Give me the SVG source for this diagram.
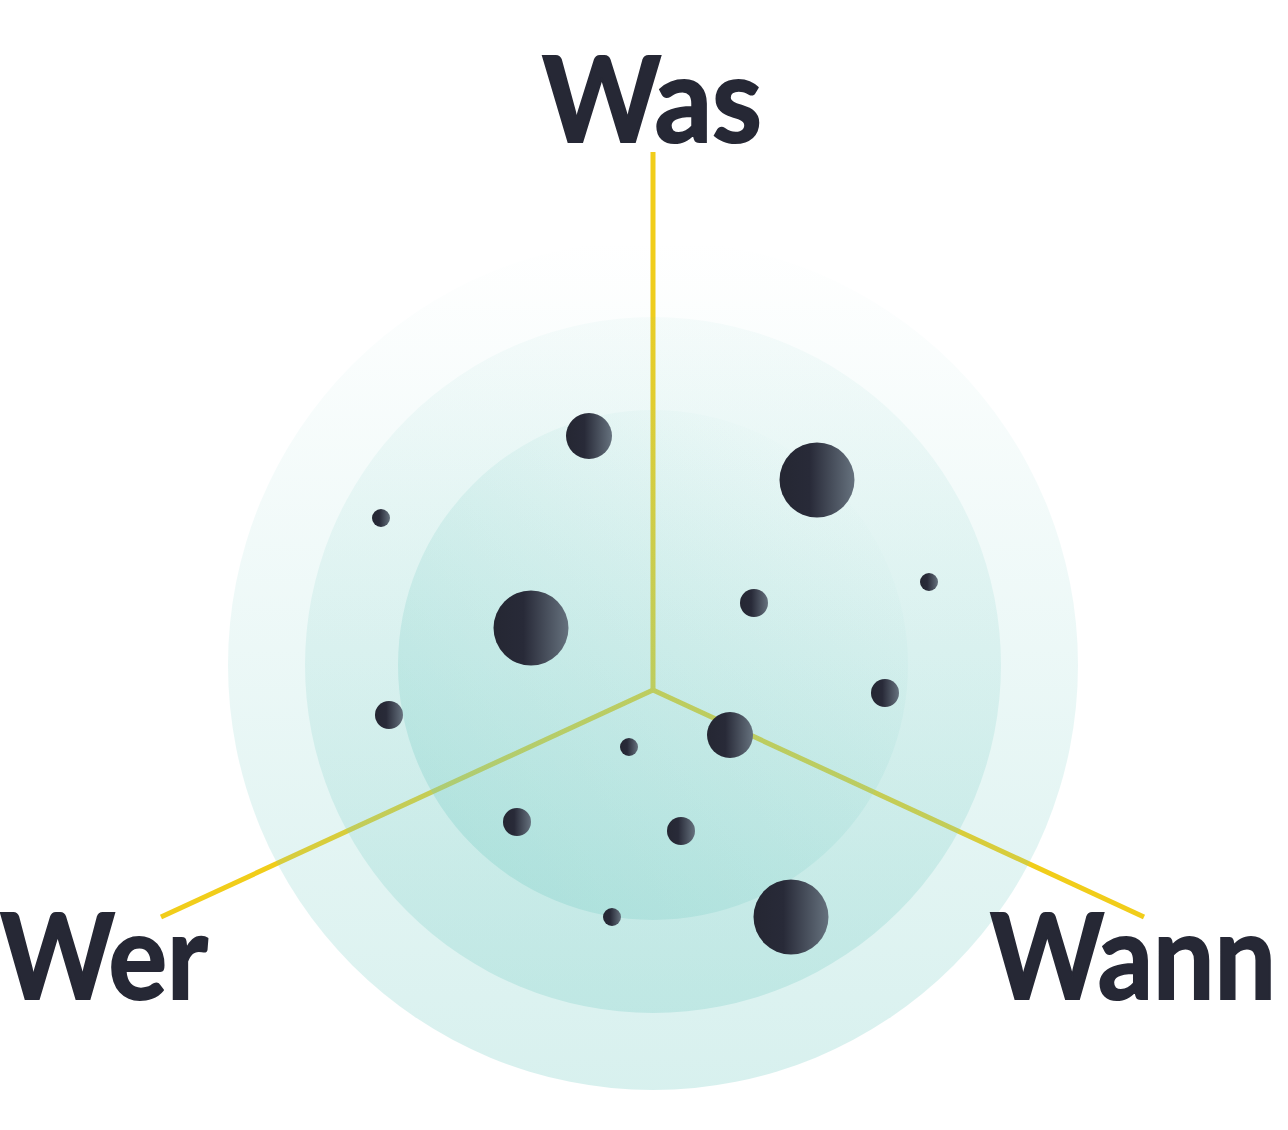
<svg xmlns="http://www.w3.org/2000/svg" width="1288" height="1130" viewBox="0 0 1288 1130">
  <defs>
    <linearGradient id="gOuter" x1="0" y1="0" x2="0" y2="1">
      <stop offset="0" stop-color="#72cbc3" stop-opacity="0"/>
      <stop offset="1" stop-color="#72cbc3" stop-opacity="0.28"/>
    </linearGradient>
    <linearGradient id="gMiddle" x1="0" y1="0" x2="0" y2="1">
      <stop offset="0" stop-color="#72cbc3" stop-opacity="0.05"/>
      <stop offset="1" stop-color="#72cbc3" stop-opacity="0.27"/>
    </linearGradient>
    <linearGradient id="gInner" x1="0.85" y1="0.1" x2="0.15" y2="0.9">
      <stop offset="0" stop-color="#72cbc3" stop-opacity="0.0"/>
      <stop offset="1" stop-color="#72cbc3" stop-opacity="0.3"/>
    </linearGradient>
    <linearGradient id="gDot" x1="0" y1="0" x2="1" y2="0">
      <stop offset="0" stop-color="#252733"/>
      <stop offset="0.4" stop-color="#282a38"/>
      <stop offset="1" stop-color="#66727e"/>
    </linearGradient>
  </defs>
  <style>
    .axis { stroke: #f1cd1a; stroke-width: 5; fill: none; }
    .dot { fill: url(#gDot); }
    .label { font-family: Lato, "Liberation Sans", sans-serif; font-weight: 700; font-size: 118px; fill: #262835; stroke: #262835; stroke-width: 2; }
  </style>
  <rect width="1288" height="1130" fill="#ffffff"/>
  <g id="connectors">
    <line class="axis" x1="653" y1="152" x2="653" y2="690"/>
    <line class="axis" x1="653" y1="690" x2="161" y2="917"/>
    <line class="axis" x1="653" y1="690" x2="1144" y2="917"/>
  </g>
  <g id="rings">
    <circle id="ring-outer" cx="653" cy="665" r="425" fill="url(#gOuter)"/>
    <circle id="ring-middle" cx="653" cy="665" r="348" fill="url(#gMiddle)"/>
    <circle id="ring-inner" cx="653" cy="665" r="255" fill="url(#gInner)"/>
  </g>
  <g id="dots">
    <circle class="dot" cx="589" cy="436" r="23"/>
    <circle class="dot" cx="817" cy="480" r="37.5"/>
    <circle class="dot" cx="531" cy="628" r="37.5"/>
    <circle class="dot" cx="754" cy="603" r="14"/>
    <circle class="dot" cx="885" cy="693" r="14"/>
    <circle class="dot" cx="730" cy="735" r="23"/>
    <circle class="dot" cx="629" cy="747" r="9"/>
    <circle class="dot" cx="517" cy="822" r="14"/>
    <circle class="dot" cx="681" cy="831" r="14"/>
    <circle class="dot" cx="791" cy="917" r="37.5"/>
    <circle class="dot" cx="612" cy="917" r="9"/>
    <circle class="dot" cx="389" cy="715" r="14"/>
    <circle class="dot" cx="381" cy="518" r="9"/>
    <circle class="dot" cx="929" cy="582" r="9"/>
  </g>
  <g id="label-was">
    <text class="label" x="542" y="142" textLength="220" lengthAdjust="spacingAndGlyphs">Was</text>
  </g>
  <g id="label-wer">
    <text class="label" x="0" y="999" textLength="208" lengthAdjust="spacingAndGlyphs">Wer</text>
  </g>
  <g id="label-wann">
    <text class="label" x="990" y="999" textLength="286" lengthAdjust="spacingAndGlyphs">Wann</text>
  </g>
</svg>
